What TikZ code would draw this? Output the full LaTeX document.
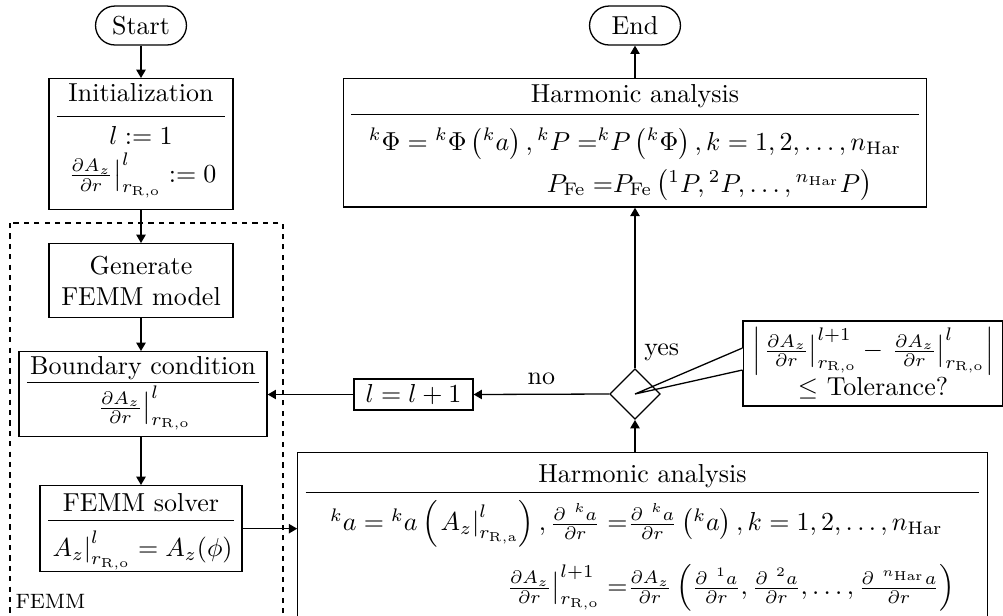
\documentclass[tikz,border=0pt]{standalone}
\usepackage{amsmath}
\usetikzlibrary{shapes.geometric,calc,arrows.meta}
\setlength{\parindent}{0pt}

% box heading with a rule under it: {title}{space above rule}{space below rule}
\newcommand{\boxhead}[3]{\mbox{#1}\rule[-3.5pt]{0pt}{3.5pt}\par\vspace{#2}\hrule\vspace{#3}}
% depth strut for the last line of a box
\newcommand{\lastdepth}[1]{\rule[-#1]{0pt}{#1}}
\newcommand{\dAz}{\frac{\partial A_z}{\partial r}}
\newcommand{\rRo}{r_{\mathrm{R,o}}}
\newcommand{\nHar}{n_{\mathrm{Har}}}

\begin{document}
\begin{tikzpicture}[x=0.385pt, y=-0.385pt,
  flowbox/.style={draw, line width=0.5pt, rectangle, align=center, inner xsep=3pt, inner ysep=2pt},
  terminal/.style={draw, line width=0.5pt, rectangle, rounded corners=7.5pt, minimum width=35pt, minimum height=15pt, inner sep=0pt},
  decision/.style={draw, line width=0.5pt, diamond, minimum size=19.5pt, inner sep=0pt},
  flowline/.style={line width=0.5pt, -{Triangle[length=3.2pt,width=3.6pt]}},
  femmframe/.style={line width=0.5pt, dash pattern=on 2pt off 2pt}]

\useasboundingbox (0,0) rectangle (1003,615);
\clip (0,0) rectangle (1003,615);

% 1. LEFT COLUMN
\node[terminal] (start) at (141,25.5) {Start};
\node[flowbox, anchor=north, text width=64.8pt] (init) at (141,78)
  {\boxhead{Initialization}{1.9pt}{3.8pt}
   \mbox{$l:=1$}\\[2.4pt]
   \mbox{$\left.\dAz\right|_{\rRo}^{l}:=0$}\lastdepth{8.6pt}};

% FEMM part
\draw[femmframe] (10,223) rectangle (283,640);
\node[anchor=base west, font=\footnotesize, inner sep=0pt] (femmlabel) at (15,608) {FEMM};

\node[flowbox, anchor=north, text width=64.8pt, minimum height=28.5pt] (gen) at (141,243)
  {Generate\\\mbox{FEMM model}};
\node[flowbox, anchor=north, text width=89.5pt] (bc) at (143,351)
  {\boxhead{Boundary condition}{-0.8pt}{1pt}
   \mbox{$\left.\dAz\right|_{\rRo}^{l}$}\lastdepth{6.3pt}};
\node[flowbox, anchor=north, text width=71.7pt, inner ysep=3pt] (fs) at (141,485)
  {\boxhead{FEMM solver}{-0.4pt}{4pt}
   \mbox{$\smash[b]{\left.A_z\right|_{\rRo}^{l}}=A_z(\phi)$}\lastdepth{2.8pt}};

% 2. RIGHT COLUMN
\node[terminal] (end) at (635,25.5) {End};
\node[flowbox, anchor=north, text width=218.5pt, inner ysep=2.2pt] (ht) at (635,78)
  {\boxhead{Harmonic analysis}{0.8pt}{5.2pt}
   $\begin{array}{@{}r@{}l@{}}
    {}^{k}\Phi={}^{k}\Phi\left({}^{k}a\right),{}^{k}P= & {}^{k}P\left({}^{k}\Phi\right),k=1,2,\ldots,\nHar\\[4pt]
    P_{\mathrm{Fe}}=\hspace{-6pt} & \hspace{6pt}P_{\mathrm{Fe}}\left({}^{1}P,{}^{2}P,\ldots,{}^{\nHar}P\right)
   \end{array}$};
\node[decision] (dec) at (635,394) {};
\node[flowbox, minimum width=45.8pt, minimum height=12pt, inner sep=1pt] (inc) at (413.5,394.5) {$l=l+1$};
\node[flowbox, anchor=north, text width=259.4pt, inner ysep=4.7pt] (hb) at (642.5,452)
  {\boxhead{Harmonic analysis}{0pt}{3pt}
   $\begin{array}{@{}r@{}l@{}}
    {}^{k}a={}^{k}a\left(\left.A_z\right|_{r_{\mathrm{R,a}}}^{l}\right),\frac{\partial\ {}^{k}a}{\partial r}= & \frac{\partial\ {}^{k}a}{\partial r}\left({}^{k}a\right),k=1,2,\ldots,\nHar\\[9.5pt]
    \left.\dAz\right|_{\rRo}^{l+1}= & \dAz\left(\frac{\partial\ {}^{1}a}{\partial r},\frac{\partial\ {}^{2}a}{\partial r},\ldots,\frac{\partial\ {}^{\nHar}a}{\partial r}\right)
   \end{array}$\lastdepth{24pt}};

% tolerance note with its pointer
\node[flowbox, minimum width=100pt, minimum height=32.7pt, inner sep=1pt] (tol) at (873,363.5)
  {$\left|\left.\dAz\right|_{\rRo}^{l+1}-\left.\dAz\right|_{\rRo}^{l}\right|$\\
   $\leq$ Tolerance?};
\coordinate (tolA) at ($(tol.west)+(0,-15.5)$);
\coordinate (tolB) at ($(tol.west)+(0,6.5)$);
\fill[white] ($(tolA)+(-1,0)$) rectangle ($(tolB)+(1,0)$);
\draw[line width=0.5pt] (tolA) -- (dec.center) -- (tolB);

% 3. CONNECTORS
\draw[flowline] (start) -- (init);
\draw[flowline] (init) -- (gen);
\draw[flowline] (gen) -- (gen |- bc.north);
\draw[flowline] (fs |- bc.south) -- (fs.north);
\draw[flowline] (fs.east) -- (fs.east -| hb.west);
\draw[flowline] (dec |- hb.north) -- (dec.south);
\draw[flowline] (dec.north) -- node[right, pos=0.1] (yeslab) {yes} (ht.south);
\draw[flowline] (ht) -- (end);
\draw[flowline] (dec.west) -- node[above] (nolab) {no} (inc.east);
\draw[flowline] (inc.west) -- (inc.west -| bc.east);

\end{tikzpicture}
\end{document}
